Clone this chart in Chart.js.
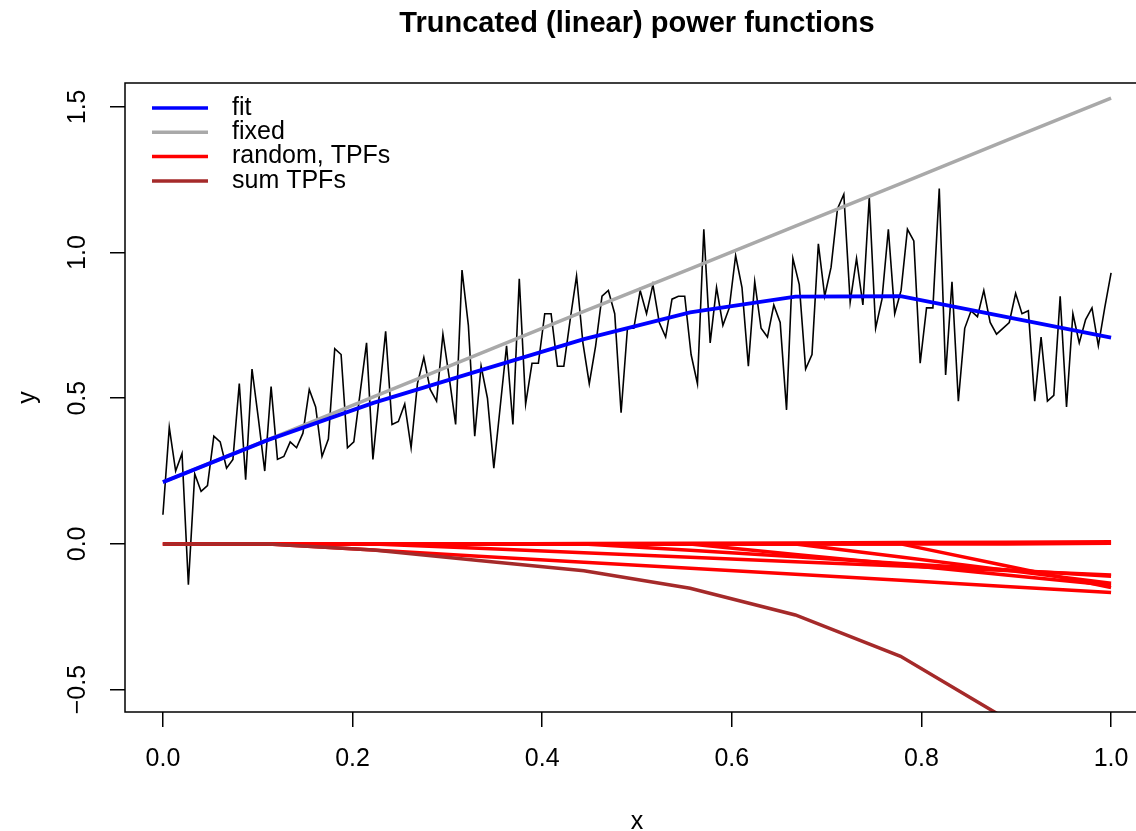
<!DOCTYPE html>
<html>
<head>
<meta charset="utf-8">
<script src="https://cdn.jsdelivr.net/npm/chart.js@4.4.1/dist/chart.umd.min.js"></script>
<style>
  html, body { margin: 0; padding: 0; overflow: hidden; background: #fff; }
  canvas { display: block; }
</style>
</head>
<body>
<canvas id="tpfChart" width="1160" height="831"></canvas>
<script>
// observed data, 150 points on an even grid from 0 to 1
const yObs = [
  0.10, 0.40, 0.25, 0.31, -0.14, 0.24, 0.18, 0.20, 0.37, 0.35,
  0.26, 0.29, 0.55, 0.22, 0.60, 0.43, 0.25, 0.54, 0.29, 0.30,
  0.35, 0.33, 0.38, 0.53, 0.47, 0.30, 0.36, 0.67, 0.65, 0.33,
  0.35, 0.52, 0.69, 0.29, 0.51, 0.73, 0.41, 0.42, 0.48, 0.33,
  0.55, 0.64, 0.53, 0.49, 0.72, 0.57, 0.41, 0.94, 0.75, 0.37,
  0.61, 0.50, 0.26, 0.47, 0.68, 0.41, 0.91, 0.48, 0.62, 0.62,
  0.79, 0.79, 0.61, 0.61, 0.77, 0.92, 0.69, 0.55, 0.68, 0.85,
  0.87, 0.79, 0.45, 0.74, 0.74, 0.87, 0.79, 0.89, 0.76, 0.71,
  0.84, 0.85, 0.85, 0.65, 0.55, 1.08, 0.69, 0.88, 0.75, 0.81,
  0.99, 0.88, 0.61, 0.90, 0.74, 0.71, 0.82, 0.76, 0.46, 0.98,
  0.89, 0.60, 0.65, 1.03, 0.85, 0.95, 1.15, 1.20, 0.83, 0.98,
  0.82, 1.19, 0.74, 0.84, 1.08, 0.79, 0.87, 1.08, 1.04, 0.62,
  0.81, 0.81, 1.22, 0.58, 0.90, 0.49, 0.74, 0.80, 0.78, 0.87,
  0.76, 0.72, 0.74, 0.76, 0.86, 0.79, 0.80, 0.49, 0.71, 0.49,
  0.51, 0.85, 0.47, 0.79, 0.69, 0.77, 0.81, 0.68, 0.81, 0.93
];

// knot grid where the fitted curves are evaluated
const knotX = [0, 0.111, 0.222, 0.333, 0.444, 0.556, 0.667, 0.778, 0.889, 1];

const fitY   = [0.212, 0.357, 0.484, 0.594, 0.703, 0.795, 0.849, 0.850, 0.779, 0.708];
const fixedY = [0.212, 0.358, 0.505, 0.651, 0.798, 0.944, 1.091, 1.237, 1.384, 1.530];
const sumTPF = [0, 0, -0.021, -0.057, -0.092, -0.152, -0.244, -0.386, -0.600, -0.815];

// the individual truncated power functions
const tpf1 = [0, 0, -0.021, -0.042, -0.063, -0.084, -0.104, -0.125, -0.146, -0.167];
const tpf2 = [0, 0, 0, -0.015, -0.030, -0.046, -0.061, -0.076, -0.091, -0.107];
const tpf3 = [0, 0, 0, 0, 0.001, 0.002, 0.003, 0.005, 0.006, 0.007];
const tpf4 = [0, 0, 0, 0, 0, -0.022, -0.044, -0.067, -0.089, -0.111];
const tpf5 = [0, 0, 0, 0, 0, 0, -0.036, -0.071, -0.107, -0.142];
const tpf6 = [0, 0, 0, 0, 0, 0, 0, -0.045, -0.090, -0.135];
const tpf7 = [0, 0, 0, 0, 0, 0, 0, 0, -0.075, -0.150];
const tpf8 = [0, 0, 0, 0, 0, 0, 0, 0, 0, 0.002];
const tpfList = [tpf1, tpf2, tpf3, tpf4, tpf5, tpf6, tpf7, tpf8];

const xTicks = [0, 0.2, 0.4, 0.6, 0.8, 1.0];
const yTicks = [-0.5, 0, 0.5, 1.0, 1.5];

const legendLabels = ["fit", "fixed", "random, TPFs", "sum TPFs"];
const legendColors = ["#0000FF", "#A9A9A9", "#FF0000", "#A52A2A"];

const FONT = "'Liberation Sans', Arial, Helvetica, sans-serif";

function pts(xs, ys) {
  return ys.map((y, i) => ({ x: xs[i], y: y }));
}
const obsX = yObs.map((_, i) => i / (yObs.length - 1));

const datasets = [];
datasets.push({ data: pts(obsX, yObs), borderColor: "#000000", borderWidth: 1.6, order: 20 });
datasets.push({ data: pts(knotX, fixedY), borderColor: legendColors[1], borderWidth: 3.5, order: 15 });
tpfList.forEach(t => {
  datasets.push({ data: pts(knotX, t), borderColor: legendColors[2], borderWidth: 3.5, order: 10 });
});
datasets.push({ data: pts(knotX, sumTPF), borderColor: legendColors[3], borderWidth: 3.5, order: 5 });
datasets.push({ data: pts(knotX, fitY), borderColor: legendColors[0], borderWidth: 3.8, order: 1 });

// box around the plot region + legend inside top-left corner
const boxAndLegend = {
  id: "boxAndLegend",
  afterDraw(chart) {
    const { ctx, chartArea: a } = chart;
    ctx.save();
    ctx.strokeStyle = "#000";
    ctx.lineWidth = 1.5;
    ctx.strokeRect(a.left, a.top, a.right - a.left, a.bottom - a.top);

    ctx.font = "25px " + FONT;
    ctx.textBaseline = "middle";
    ctx.fillStyle = "#000";
    legendLabels.forEach((lab, i) => {
      const y = a.top + 25 + i * 24.3;
      ctx.strokeStyle = legendColors[i];
      ctx.lineWidth = 3.5;
      ctx.beginPath();
      ctx.moveTo(a.left + 27, y);
      ctx.lineTo(a.left + 83, y);
      ctx.stroke();
      ctx.fillText(lab, a.left + 107, y);
    });
    ctx.restore();
  }
};

const fmt = v => (v < 0 ? "\u2212" + Math.abs(v).toFixed(1) : v.toFixed(1));

new Chart(document.getElementById("tpfChart"), {
  type: "line",
  data: { datasets: datasets },
  options: {
    responsive: false,
    animation: false,
    devicePixelRatio: 1,
    elements: { point: { radius: 0 }, line: { tension: 0, fill: false } },
    layout: { padding: { left: 0, right: 11, top: 0, bottom: 0 } },
    plugins: {
      legend: { display: false },
      tooltip: { enabled: false },
      title: {
        display: true,
        text: "Truncated (linear) power functions",
        color: "#000",
        fullSize: false,
        font: { family: FONT, size: 29, weight: "bold", lineHeight: 1.2 },
        padding: { top: 7, bottom: 41.2 }
      }
    },
    scales: {
      x: {
        type: "linear",
        min: -0.04,
        max: 1.04,
        afterBuildTicks: s => { s.ticks = xTicks.map(v => ({ value: v })); },
        afterFit: s => { s.height = 119; },
        border: { display: false },
        grid: { drawOnChartArea: false, drawTicks: true, tickLength: 15, tickColor: "#000", lineWidth: 1.5 },
        ticks: { color: "#000", padding: 17, font: { family: FONT, size: 25 }, maxRotation: 0, autoSkip: false, callback: v => fmt(v) },
        title: { display: true, text: "x", color: "#000", font: { family: FONT, size: 25, lineHeight: 0.68 }, padding: { top: 0, bottom: 0 } }
      },
      y: {
        type: "linear",
        min: -0.577,
        max: 1.582,
        afterBuildTicks: s => { s.ticks = yTicks.map(v => ({ value: v })); },
        afterFit: s => { s.width = 125; },
        border: { display: false },
        grid: { drawOnChartArea: false, drawTicks: true, tickLength: 15, tickColor: "#000", lineWidth: 1.5 },
        ticks: { color: "#000", padding: 7, minRotation: 90, maxRotation: 90, crossAlign: "center", autoSkip: false, font: { family: FONT, size: 25 }, callback: v => fmt(v) },
        title: { display: true, text: "y", color: "#000", font: { family: FONT, size: 25, lineHeight: 1 }, padding: { top: 16, bottom: 0 } }
      }
    }
  },
  plugins: [boxAndLegend]
});
</script>
</body>
</html>
